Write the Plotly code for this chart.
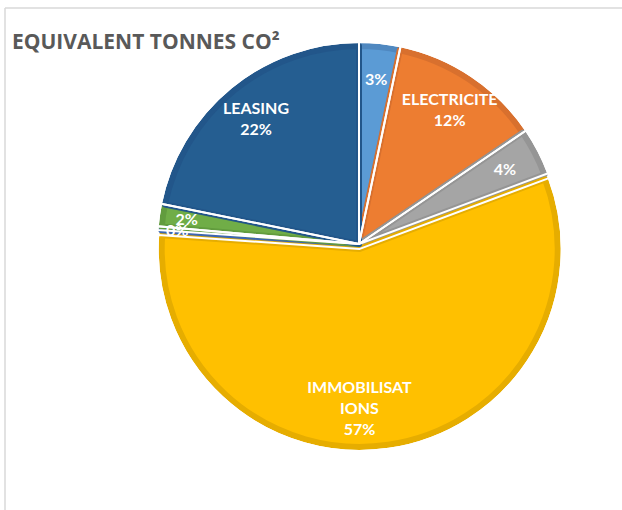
import plotly.graph_objects as go

categories = ["AUTRE A", "ELECTRICITE", "AUTRE B", "IMMOBILISATIONS", "AUTRE C", "AUTRE D", "LEASING"]
values = [3.3, 12.2, 3.8, 56.8, 0.3, 1.8, 21.8]
display_names = ["", "ELECTRICITE", "", "IMMOBILISAT<br>IONS", "", "", "LEASING"]
fill_colors = ["#5B9BD5", "#ED7D31", "#A5A5A5", "#FFC000", "#4472C4", "#70AD47", "#255E91"]
edge_colors = ["#4F88C0", "#D8702E", "#959595", "#E6AD00", "#3D66B0", "#629C3E", "#22568A"]
pulls = [0, 0, 0, 0.025, 0, 0, 0]

named_templates = [("%{text}<br>%{percent:.0%}" if n else "") for n in display_names]
small_templates = [("" if n else "%{percent:.0%}") for n in display_names]

W, H = 622, 510
cx, cy = 359, H - 244
R = 201          # visible outer radius
EDGE = 6         # dark border width


def geometry(radius):
    # keep the same absolute explode offset whatever the radius
    p = [v * (R - EDGE / 2) / radius for v in pulls]
    r0 = radius * (1 + max(p))
    dom = dict(x=[(cx - r0) / W, (cx + r0) / W], y=[(cy - r0) / H, (cy + r0) / H])
    return p, dom


common = dict(labels=categories, values=values, sort=False, direction="clockwise",
              rotation=0, showlegend=False)
clear = ["rgba(0,0,0,0)"] * len(values)
font = dict(family="Lato", size=16, color="white", weight="bold")

fig = go.Figure()
p, dom = geometry(R - EDGE / 2)
fig.add_trace(go.Pie(
    **common, pull=p, domain=dom,
    marker=dict(colors=fill_colors, line=dict(color=edge_colors, width=EDGE)),
    textinfo="none", hoverinfo="label+percent",
))
p, dom = geometry(R + 1)
fig.add_trace(go.Pie(
    **common, pull=p, domain=dom,
    marker=dict(colors=clear, line=dict(color="white", width=2)),
    textinfo="none", hoverinfo="skip",
))
p, dom = geometry(R)
fig.add_trace(go.Pie(
    **common, pull=p, domain=dom, hole=0.62, text=display_names,
    texttemplate=named_templates, textinfo="text",
    marker=dict(colors=clear, line=dict(width=0)),
    textposition="inside", insidetextorientation="horizontal",
    textfont=font, hoverinfo="skip",
))
p, dom = geometry(184)
fig.add_trace(go.Pie(
    **common, pull=p, domain=dom,
    texttemplate=small_templates, textinfo="text",
    marker=dict(colors=clear, line=dict(width=0)),
    textposition="inside", insidetextorientation="horizontal",
    textfont=font, hoverinfo="skip",
))

fig.update_layout(
    width=W, height=H,
    margin=dict(l=0, r=0, t=0, b=0),
    paper_bgcolor="white",
    uniformtext=dict(minsize=16, mode="show"),
    title=dict(text="<b>EQUIVALENT TONNES CO²</b>", x=12 / W, xanchor="left",
               y=1 - 42 / H, yanchor="middle",
               font=dict(family="Open Sans", size=21, color="#595959")),
    shapes=[
        dict(type="line", xref="paper", yref="paper", x0=5 / W, x1=1, y0=1 - 8 / H, y1=1 - 8 / H,
             line=dict(color="#D9D9D9", width=1.5)),
        dict(type="line", xref="paper", yref="paper", x0=5 / W, x1=5 / W, y0=0, y1=1 - 8 / H,
             line=dict(color="#D9D9D9", width=1.5)),
    ],
)

fig.write_html("out.html", config={"displayModeBar": False},
               post_script="document.body.style.margin='0';")
